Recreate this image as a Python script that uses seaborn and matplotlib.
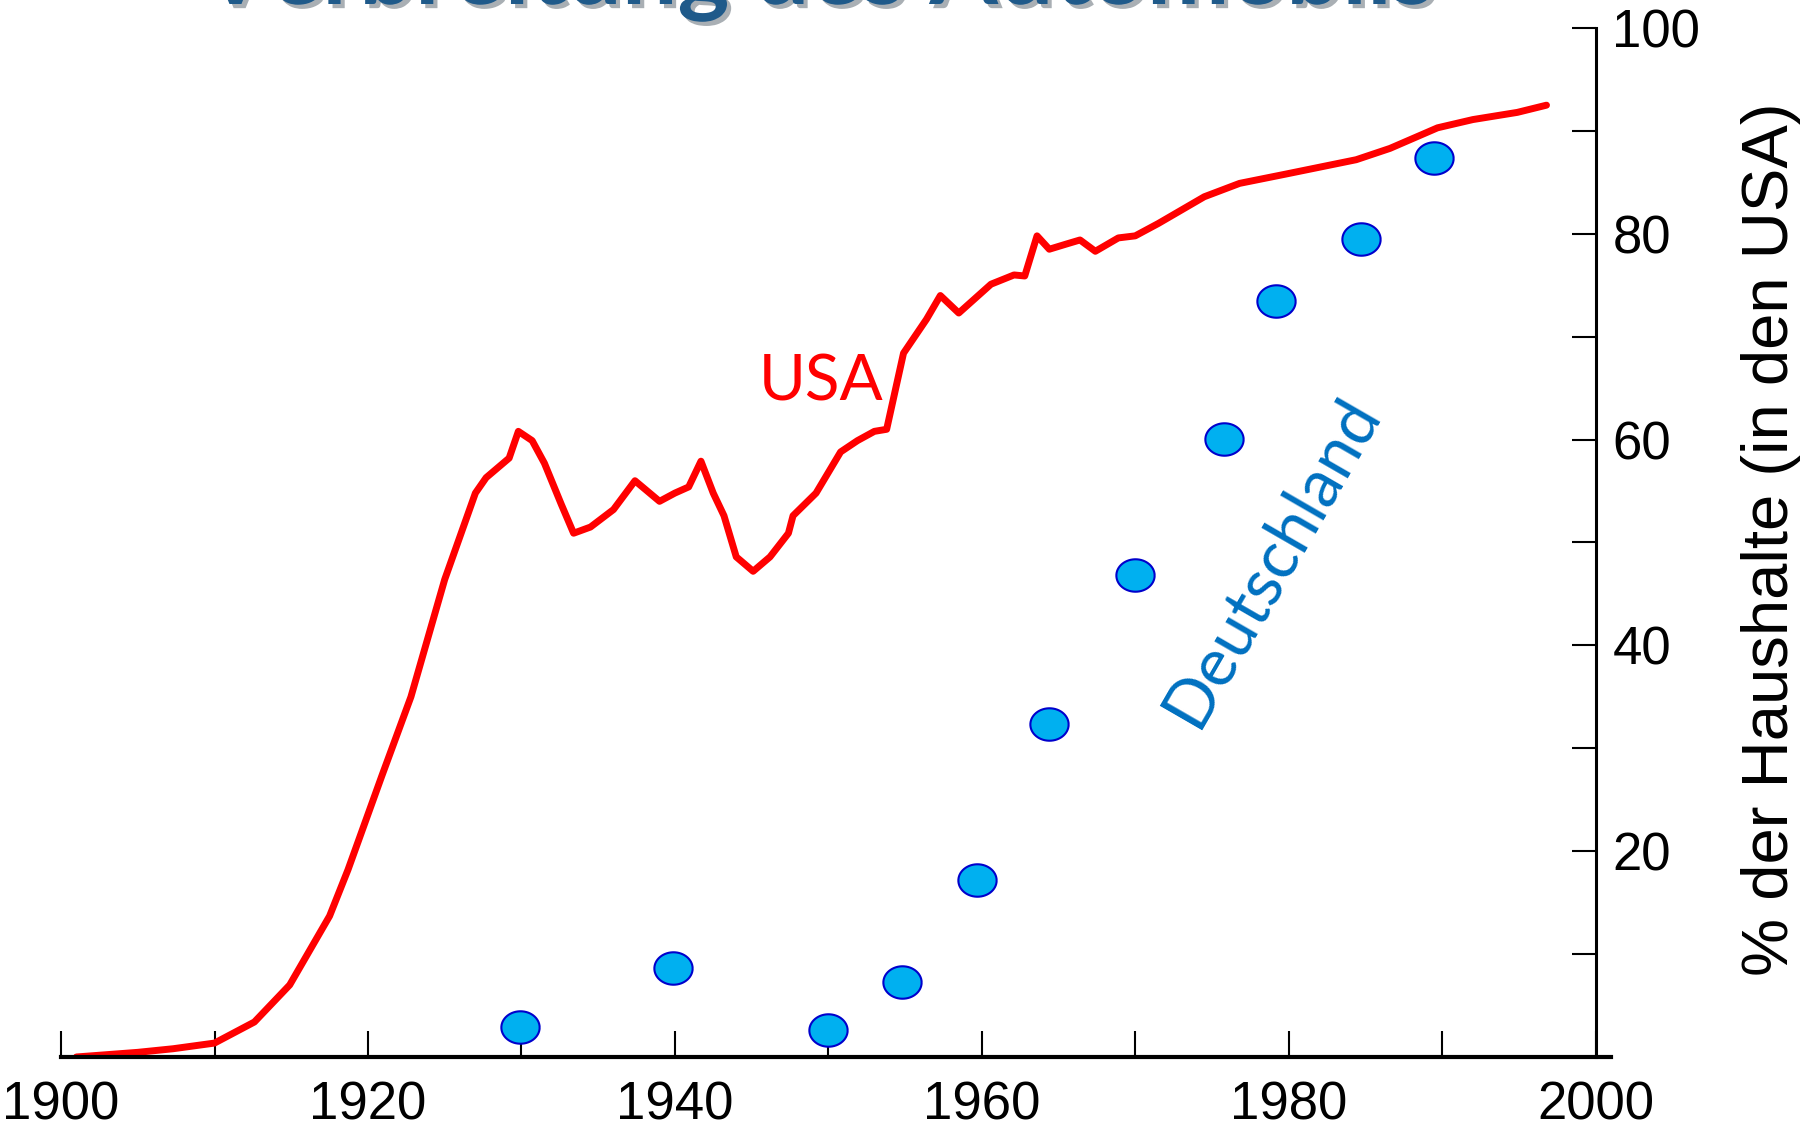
import numpy as np
import pandas as pd
import seaborn as sns
import matplotlib.pyplot as plt
import matplotlib.path as mpath
import matplotlib.patheffects as pe
from matplotlib.ticker import MultipleLocator

# Haushalte mit Auto (USA)
usa_jahr = [1901, 1905, 1907.3, 1910, 1912.6, 1914.9, 1917.5, 1918.7, 1920.9, 1922.8,
            1925, 1927, 1927.7, 1929.2, 1929.8, 1930.7, 1931.5, 1932.6, 1933.4, 1934.5,
            1936, 1937.4, 1939, 1940, 1940.9, 1941.7, 1942.5, 1943.2, 1944, 1945.1,
            1946.2, 1947.4, 1947.7, 1949.2, 1950.8, 1951.9, 1953, 1953.8, 1954.9, 1956.4,
            1957.3, 1958.5, 1960.6, 1962.1, 1962.8, 1963.6, 1964.4, 1965.5, 1966.4, 1967.4,
            1968.9, 1970, 1971.5, 1974.5, 1976.8, 1979.8, 1984.4, 1986.6, 1989.7, 1992,
            1994.9, 1996.8]
usa_anteil = [0, 0.45, 0.8, 1.35, 3.4, 7, 13.7, 18.2, 27.3, 35,
              46.4, 54.8, 56.3, 58.2, 60.8, 59.9, 57.7, 53.7, 50.9, 51.5,
              53.2, 56, 54, 54.8, 55.4, 57.9, 54.8, 52.6, 48.6, 47.2,
              48.6, 50.9, 52.6, 54.8, 58.8, 59.9, 60.8, 61, 68.4, 71.7,
              74, 72.3, 75.1, 76, 75.9, 79.8, 78.5, 79, 79.4, 78.3,
              79.6, 79.8, 81, 83.6, 84.9, 85.8, 87.2, 88.3, 90.3, 91.1,
              91.8, 92.5]

# Deutschland
de_jahr = [1929.9, 1939.9, 1950, 1954.8, 1959.7, 1964.4, 1970, 1975.8, 1979.2, 1984.7, 1989.5]
de_anteil = [2.9, 8.6, 2.6, 7.3, 17.2, 32.4, 46.8, 60.1, 73.5, 79.5, 87.4]

x_ticks = [1900, 1920, 1940, 1960, 1980, 2000]
y_ticks = [20, 40, 60, 80, 100]

usa = pd.DataFrame({"Jahr": usa_jahr, "Anteil": usa_anteil})
de = pd.DataFrame({"Jahr": de_jahr, "Anteil": de_anteil})

sns.set_style("white")
plt.rcParams["font.family"] = ["Liberation Sans", "DejaVu Sans"]

fig = plt.figure(figsize=(18.17, 11.29), dpi=100)
ax = fig.add_axes([0.0336, 0.0638, 0.853, 0.9114])

sns.lineplot(data=usa, x="Jahr", y="Anteil", color="#ff0000", lw=5,
             solid_joinstyle="round", solid_capstyle="round", ax=ax)

# ovale Punkte
t = np.linspace(0, 2 * np.pi, 60)
oval = mpath.Path(np.column_stack([1.18 * np.cos(t), np.sin(t)]))
sns.scatterplot(data=de, x="Jahr", y="Anteil", marker=oval, s=760,
                color="#00b0f0", edgecolor="#0000cc", linewidth=1.5, ax=ax, zorder=3)

ax.set_xlim(1900, 2001)
ax.set_ylim(0, 100)
ax.spines["left"].set_visible(False)
ax.spines["top"].set_visible(False)
ax.spines["right"].set_position(("data", 2000))
ax.spines["right"].set_linewidth(2.2)
ax.spines["bottom"].set_linewidth(3)
for s in ("right", "bottom"):
    ax.spines[s].set_color("black")

ax.set_xticks(x_ticks)
ax.xaxis.set_minor_locator(MultipleLocator(10))
ax.yaxis.tick_right()
ax.set_yticks(y_ticks)
ax.yaxis.set_minor_locator(MultipleLocator(10))
ax.tick_params(axis="x", which="both", direction="in", length=19, width=1.5,
               color="black", labelcolor="black", labelsize=38, pad=17, bottom=True)
ax.tick_params(axis="y", which="both", direction="in", length=17, width=1.5,
               color="black", labelcolor="black", labelsize=38, pad=12,
               right=True, left=False)

ax.set_xlabel("")
ax.set_ylabel("% der Haushalte (in den USA)", fontsize=47, color="black")
ax.yaxis.set_label_position("right")
ax.yaxis.set_label_coords(1.084, 0.503)

ax.text(1949.5, 65.5, "USA", color="#ff0000", fontsize=46, family="Lato",
        ha="center", va="center")
ax.text(1978.9, 48.2, "Deutschland", color="#0070c0", fontsize=48, family="Lato",
        ha="center", va="center", rotation=60, rotation_mode="anchor")

fig.text(0.45, 1 - 4 / 1129, "Verbreitung des Automobils", color="#1f5a8a",
         fontsize=71, family="Lato", weight="bold", ha="center", va="baseline",
         path_effects=[pe.SimplePatchShadow(offset=(3, -3), alpha=0.35), pe.Normal()])

fig.savefig("out.png", dpi=100)
